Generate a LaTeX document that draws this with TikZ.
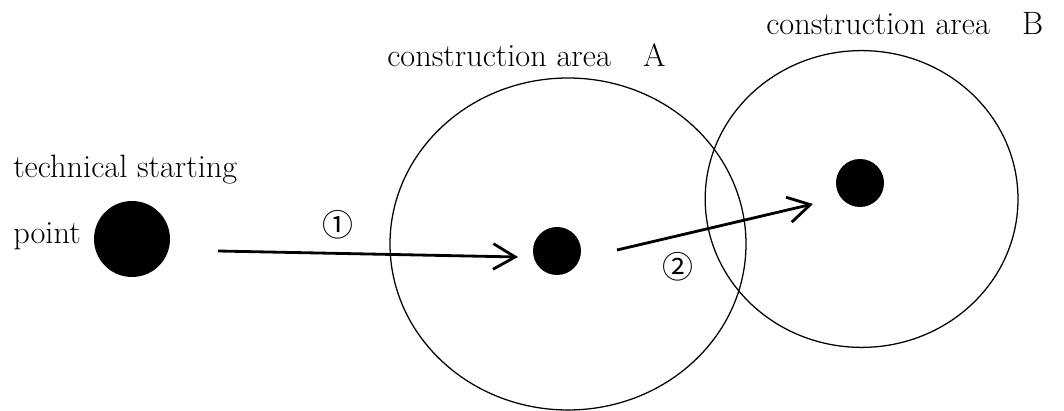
\documentclass[tikz,border=0pt]{standalone}
\usepackage{fontspec}
\newfontfamily\cjk{Noto Sans CJK JP}
\usetikzlibrary{positioning,arrows.meta,shapes.geometric,calc}
\tikzset{
  area-ring/.style={draw=black, line width=0.9pt, ellipse, inner sep=0pt},
  site-dot/.style={circle, fill=black, inner sep=0pt},
  move-arrow/.style={-{Straight Barb[length=5.5mm, width=6.4mm]}, line width=2pt},
  area-label/.style={font=\fontsize{23}{27}\selectfont, anchor=base west, inner sep=0pt},
  step-label/.style={font=\cjk\fontsize{22}{24}\selectfont, inner sep=0pt}
}
\begin{document}
\begin{tikzpicture}
\useasboundingbox (0,0) rectangle (26.6,10.275);

% construction areas
\node[area-ring, minimum width=8.9cm, minimum height=8.3cm] (areaA) at (14.2,4.175) {};
\node[area-ring, minimum width=7.82cm, minimum height=7.42cm] (areaB) at (21.54,5.3) {};

% sites
\node[site-dot, minimum size=1.9cm] (start) at (3.3,4.3) {};
\node[site-dot, minimum size=1.2cm] (siteA) at (13.925,4.0) {};
\node[site-dot, minimum size=1.2cm] (siteB) at (21.5,5.7) {};

% texts
\node[area-label] (lblA) at (9.675,8.6) {construction area\hspace{1em}A};
\node[area-label] (lblB) at (19.15,9.4) {construction area\hspace{1em}B};
\node[area-label] (lblStart) at (0.325,5.825) {technical starting};
\node[area-label] (lblPoint) at (0.325,4.175) {point};

% arrow ends
\coordinate (m1-from) at ($(start)+(2.15,-0.3)$);
\coordinate (m1-to) at ($(siteA)+(-0.975,-0.15)$);
\coordinate (m2-from) at ($(siteA)+(1.5,0.025)$);
\coordinate (m2-to) at ($(siteB)+(-1.175,-0.525)$);

% moves
\draw[move-arrow] (m1-from) -- (m1-to);
\draw[move-arrow] (m2-from) -- (m2-to);

% step numbers
\node[step-label] (step1) at (8.45,4.65) {①};
\node[step-label] (step2) at (16.95,3.6) {②};
\end{tikzpicture}
\end{document}
